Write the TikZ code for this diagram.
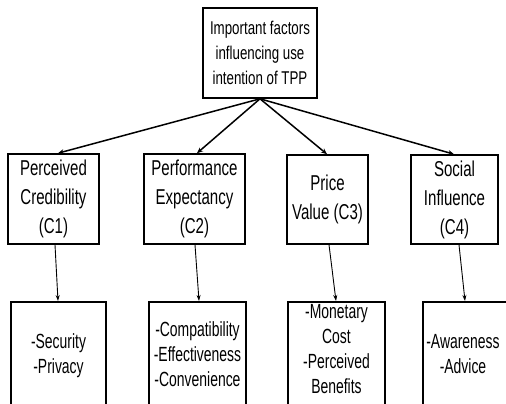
\documentclass[tikz,border=0pt]{standalone}
\usepackage{fontspec}
\setmainfont{Liberation Sans}
\newfontfamily\topf{Liberation Sans}[FakeStretch=0.72]
\newfontfamily\midf{Liberation Sans}[FakeStretch=0.70]
\newfontfamily\botf{Liberation Sans}[FakeStretch=0.68]
\usetikzlibrary{arrows.meta}
\begin{document}
\begin{tikzpicture}[x=1pt,y=-1pt,
  box/.style={draw=black,line width=1.6pt,rectangle,inner sep=0pt,align=center},
  topfont/.style={font=\topf\fontsize{18.5}{25}\selectfont},
  midfont/.style={font=\midf\fontsize{21.5}{29}\selectfont},
  botfont/.style={font=\botf\fontsize{20.5}{25}\selectfont,align=center,inner sep=0pt},
  bigarrow/.style={-{Stealth[length=6pt,width=5pt]},line width=1.5pt},
  smallarrow/.style={-{Stealth[length=6pt,width=4pt]},line width=0.9pt}]
\useasboundingbox (0,0) rectangle (506,404);
\clip (0,0) rectangle (506,404);
% top
\node[box,topfont,minimum width=114pt,minimum height=90pt] (top) at (260,53)
  {Important factors\\influencing use\\intention of TPP};
% middle
\node[box,midfont,minimum width=91pt,minimum height=90pt] (m1) at (53.5,199)
  {Perceived\\Credibility\\(C1)};
\node[box,midfont,minimum width=101pt,minimum height=90pt] (m2) at (194.5,199)
  {Performance\\Expectancy\\(C2)};
\node[box,midfont,minimum width=81pt,minimum height=89pt] (m3) at (327.5,199.5)
  {Price\\Value (C3)};
\node[box,midfont,minimum width=87pt,minimum height=89pt] (m4) at (454.5,199.5)
  {Social\\Influence\\(C4)};
% bottom boxes (cut off by the lower edge)
\node[box,minimum width=95pt,minimum height=120pt,anchor=north] (b1) at (58.5,301) {};
\node[box,minimum width=97pt,minimum height=120pt,anchor=north] (b2) at (197.5,301) {};
\node[box,minimum width=97pt,minimum height=120pt,anchor=north] (b3) at (336.5,301) {};
\node[box,minimum width=90pt,minimum height=120pt,anchor=north west] (b4) at (422,301) {};
% bottom texts
\node[botfont] (t1) at (58.5,355.5) {-Security\\-Privacy};
\node[botfont] (t2) at (197.5,354.5) {-Compatibility\\-Effectiveness\\-Convenience};
\node[botfont] (t3) at (336.5,349.5) {-Monetary\\Cost\\-Perceived\\Benefits};
\node[botfont] (t4) at (463,354.5) {-Awareness\\-Advice};
% connectors
\coordinate (hub) at (top.south);
\draw[bigarrow] (hub) -- (m1.north -| 58,0);
\draw[bigarrow] (hub) -- (m2.north -| 197,0);
\draw[bigarrow] (hub) -- (m3.north -| 327,0);
\draw[bigarrow] (hub) -- (m4.north -| 454,0);
\draw[smallarrow] (m1.south -| 55,0) -- (b1.north -| 58,0);
\draw[smallarrow] (m2.south -| 195,0) -- (b2.north -| 199,0);
\draw[smallarrow] (m3.south -| 329,0) -- (b3.north -| 336,0);
\draw[smallarrow] (m4.south -| 459,0) -- (b4.north -| 465,0);
\end{tikzpicture}
\end{document}
